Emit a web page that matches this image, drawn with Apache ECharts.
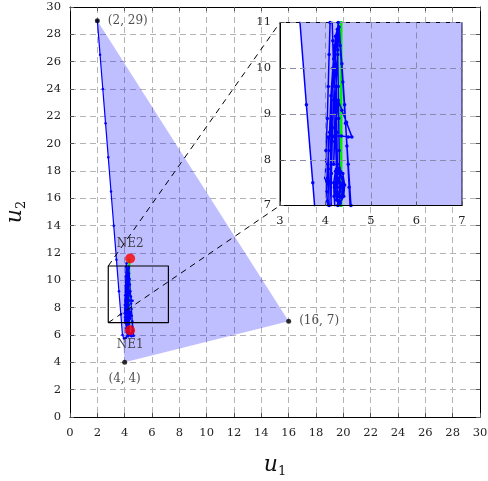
<!DOCTYPE html>
<html><head><meta charset="utf-8">
<script src="https://cdn.jsdelivr.net/npm/echarts@6/dist/echarts.min.js"></script>
<style>html,body{margin:0;padding:0;background:#fff}#c{width:488px;height:481px}</style>
</head><body><div id="c"></div>
<script>
// ---- data ----
const vertices = [[2, 29], [4, 4], [16, 7]];
const vertexLabels = ['(2, 29)', '(4, 4)', '(16, 7)'];
const vertexLabelPos = ['right', 'bottom', 'right'];
const nashPoints = [[4.4, 6.35], [4.4, 11.6]];
const nashLabels = ['NE1', 'NE2'];
const nashLabelPos = ['bottom', 'top'];
const nashSegment = [[4.34, 6.35], [4.34, 11.6]];
const trajectory = [
  [2, 29], [2.2, 26.5], [2.4, 24], [2.6, 21.5], [2.8, 19], [3.0, 16.5], [3.2, 14],
  [3.4, 11.5], [3.58, 9.2], [3.72, 7.5], [3.84, 6.0], [3.95, 5.75],
  [4.1, 5.8], [4.2, 5.95], [4.12, 6.5], [4.04, 7.1], [4.0, 7.6], [4.01, 8.2], [4.04, 8.9],
  [4.06, 9.6], [4.08, 10.3], [4.1, 11.0], [4.14, 11.25],
  [4.16, 10.6], [4.18, 9.9], [4.2, 9.2], [4.22, 8.5], [4.24, 7.8], [4.27, 7.0], [4.3, 6.3], [4.25, 5.9],
  [4.15, 6.2], [4.12, 6.9], [4.13, 7.7], [4.15, 8.5], [4.18, 9.3], [4.21, 10.1], [4.25, 10.7], [4.28, 11.0],
  [4.32, 10.5], [4.38, 9.7], [4.44, 8.8], [4.5, 7.9], [4.56, 7.0], [4.62, 6.3], [4.66, 5.95],
  [4.5, 5.9], [4.32, 6.0], [4.16, 6.3], [4.08, 7.0], [4.06, 7.8], [4.06, 8.5],
  [4.2, 8.52], [4.35, 8.52], [4.5, 8.5], [4.58, 8.5], [4.46, 8.82], [4.36, 9.08], [4.28, 9.3],
  [4.24, 8.9], [4.2, 8.4], [4.18, 7.9], [4.2, 8.7], [4.23, 9.6], [4.27, 10.4], [4.3, 10.9],
  [4.36, 10.1], [4.42, 9.2], [4.47, 8.3], [4.52, 7.4], [4.56, 6.6], [4.52, 6.1], [4.4, 6.0], [4.28, 6.2],
  [4.14, 6.8], [4.1, 7.5], [4.11, 8.2], [4.13, 8.9], [4.15, 9.6], [4.18, 10.2], [4.22, 10.7], [4.26, 10.85],
  [4.27, 10.3], [4.28, 9.6], [4.29, 8.9], [4.3, 8.2], [4.31, 7.5], [4.32, 6.8], [4.3, 6.2],
  [4.18, 6.4], [4.05, 6.9], [4.03, 7.3], [4.05, 7.9], [4.09, 8.6], [4.12, 9.4], [4.16, 10.0], [4.2, 10.5],
  [4.23, 10.0], [4.24, 9.3], [4.25, 8.6], [4.26, 7.9], [4.27, 7.2], [4.28, 6.6],
  [4.22, 6.8], [4.19, 7.2], [4.18, 7.5], [4.22, 7.75], [4.3, 7.82], [4.38, 7.7], [4.42, 7.45],
  [4.4, 7.2], [4.32, 7.05], [4.24, 7.12], [4.2, 7.4], [4.24, 7.65], [4.32, 7.72], [4.38, 7.5],
  [4.36, 7.22], [4.28, 7.1], [4.22, 7.3], [4.23, 7.6], [4.3, 7.75], [4.37, 7.6], [4.39, 7.35],
  [4.35, 7.18], [4.29, 7.2], [4.26, 7.4], [4.3, 7.6], [4.35, 7.45], [4.32, 7.3]
];
const mainRange = { x: [0, 30], y: [0, 30], step: 2 };
const insetRange = { x: [3, 7], y: [7, 11], step: 1 };
const zoomWindow = { x: [2.8, 7.2], y: [6.9, 11.05] };

// ---- styles ----
const FONT = 'DejaVu Serif';
const FILL = 'rgba(0,0,255,0.25)';
const BLUE = '#0000ff';
const GREEN = '#00ee00';

function polygonRender(params, api) {
  if (params.dataIndex !== 0) return { type: 'group', children: [] };
  const pts = vertices.map(v => api.coord(v));
  return { type: 'polygon', shape: { points: pts }, style: { fill: FILL, stroke: null } };
}

function axisPair(gi, range, pos, showLabel, z, margin) {
  return {
    type: 'value', gridIndex: gi, min: range[0], max: range[1], interval: (gi === 0 ? mainRange.step : insetRange.step),
    position: pos, z: z,
    axisLine: { show: true, onZero: false, lineStyle: { color: '#000', width: 1 } },
    axisTick: { show: true, inside: true, length: 4, lineStyle: { color: '#555' } },
    axisLabel: { show: showLabel, fontFamily: FONT, fontSize: 11.5, color: '#222', margin: margin },
    splitLine: { show: showLabel, lineStyle: { type: [6, 4], color: gi === 0 ? '#b4b4b4' : '#8a8aaa', width: 1 } }
  };
}

const nameStyle = { rich: {
  u: { fontFamily: FONT, fontStyle: 'italic', fontSize: 22, color: '#111' },
  s: { fontFamily: FONT, fontSize: 13, color: '#111', padding: [12, 0, 0, 0] } } };
const xMain = axisPair(0, mainRange.x, 'bottom', true, 0, 10);
Object.assign(xMain, { name: '{u|u}{s|1}', nameLocation: 'middle', nameGap: 36, nameTextStyle: nameStyle });
const yMain = axisPair(0, mainRange.y, 'left', true, 0, 9);
Object.assign(yMain, { name: '{u|u}{s|2}', nameLocation: 'middle', nameGap: 42, nameTextStyle: nameStyle });

const option = {
  animation: false,
  backgroundColor: '#fff',
  grid: [
    { left: 70, right: 8, top: 7, bottom: 64, containLabel: false, outerBoundsMode: 'none' },
    { left: 280, top: 22.5, width: 182, height: 183, show: true, backgroundColor: '#fff',
      borderColor: '#000', borderWidth: 1, z: 20, containLabel: false, outerBoundsMode: 'none' }
  ],
  xAxis: [
    xMain,
    axisPair(0, mainRange.x, 'top', false, 0, 8),
    axisPair(1, insetRange.x, 'bottom', true, 25, 10)
  ],
  yAxis: [
    yMain,
    axisPair(0, mainRange.y, 'right', false, 0, 8),
    axisPair(1, insetRange.y, 'left', true, 25, 9)
  ],
  series: [
    { type: 'custom', xAxisIndex: 0, yAxisIndex: 0, data: vertices, renderItem: polygonRender, z: 1, silent: true },
    { type: 'line', xAxisIndex: 0, yAxisIndex: 0, data: nashSegment, z: 2, symbol: 'none',
      lineStyle: { color: GREEN, width: 2 } },
    { type: 'line', xAxisIndex: 0, yAxisIndex: 0, data: trajectory, z: 3,
      lineStyle: { color: BLUE, width: 1.2 }, symbol: 'circle', symbolSize: 2.5, itemStyle: { color: BLUE }, showAllSymbol: true },
    { type: 'line', xAxisIndex: 0, yAxisIndex: 0, z: 4, symbol: 'none',
      data: [[zoomWindow.x[0], zoomWindow.y[0]], [zoomWindow.x[1], zoomWindow.y[0]], [zoomWindow.x[1], zoomWindow.y[1]],
             [zoomWindow.x[0], zoomWindow.y[1]], [zoomWindow.x[0], zoomWindow.y[0]]],
      lineStyle: { color: '#000', width: 1.2 } },
    { type: 'scatter', xAxisIndex: 0, yAxisIndex: 0, z: 5, symbolSize: 5, itemStyle: { color: '#000' },
      data: vertices.map((v, i) => ({ value: v, label: { show: true, formatter: vertexLabels[i], position: vertexLabelPos[i],
        distance: 8, fontFamily: FONT, fontSize: 12, color: '#222' } })) },
    { type: 'scatter', xAxisIndex: 0, yAxisIndex: 0, z: 6, symbolSize: 10, itemStyle: { color: '#ff0000' },
      data: nashPoints.map((v, i) => ({ value: v, label: { show: true, formatter: nashLabels[i], position: nashLabelPos[i],
        distance: 4, fontFamily: FONT, fontSize: 12, color: '#222' } })) },
    // inset
    { type: 'custom', xAxisIndex: 2, yAxisIndex: 2, data: vertices, renderItem: polygonRender, z: 21, clip: true, silent: true },
    { type: 'line', xAxisIndex: 2, yAxisIndex: 2, data: nashSegment, z: 22, clip: true, symbol: 'none',
      lineStyle: { color: GREEN, width: 3 } },
    { type: 'line', xAxisIndex: 2, yAxisIndex: 2, data: trajectory, z: 23, clip: true,
      lineStyle: { color: BLUE, width: 1.5 }, symbol: 'circle', symbolSize: 3.5, itemStyle: { color: BLUE }, showAllSymbol: true }
  ]
};

const chart = echarts.init(document.getElementById('c'), null, { renderer: 'canvas' });
chart.setOption(option);

// spy connector lines
const a1 = chart.convertToPixel({ gridIndex: 0 }, [zoomWindow.x[0], zoomWindow.y[1]]);
const a2 = chart.convertToPixel({ gridIndex: 0 }, [zoomWindow.x[0], zoomWindow.y[0]]);
const b1 = chart.convertToPixel({ gridIndex: 1 }, [insetRange.x[0], insetRange.y[1]]);
const b2 = chart.convertToPixel({ gridIndex: 1 }, [insetRange.x[0], insetRange.y[0]]);
chart.setOption({ graphic: [
  { type: 'line', z: 15, shape: { x1: a1[0], y1: a1[1], x2: b1[0], y2: b1[1] }, style: { stroke: '#000', lineWidth: 1, lineDash: [6, 5] } },
  { type: 'line', z: 15, shape: { x1: a2[0], y1: a2[1], x2: b2[0], y2: b2[1] }, style: { stroke: '#000', lineWidth: 1, lineDash: [6, 5] } }
] });
</script></body></html>
